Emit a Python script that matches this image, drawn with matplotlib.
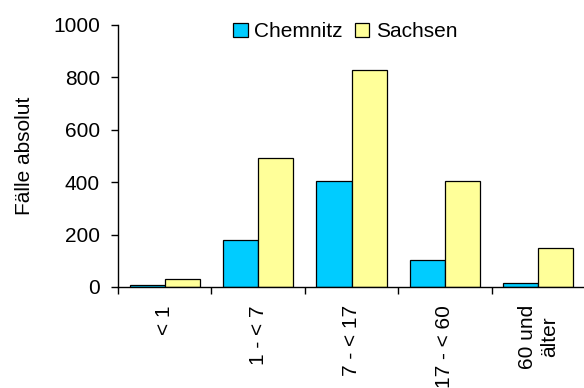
import matplotlib
matplotlib.use("Agg")
import matplotlib.pyplot as plt
import numpy as np

plt.rcParams['font.family'] = ['Liberation Sans', 'DejaVu Sans']

categories = ["< 1", "1 - < 7", "7 - < 17", "17 - < 60", "60 und\nälter"]
chemnitz = [7, 179, 405, 103, 15]
sachsen = [30, 492, 828, 405, 149]
series_names = ["Chemnitz", "Sachsen"]
yticks = [0, 200, 400, 600, 800, 1000]

fig = plt.figure(figsize=(5.84, 3.88), dpi=100)
W, H = 584, 388
ax = fig.add_axes([118 / W, (H - 287) / H, (585 - 118) / W, 262 / H])

x = np.arange(len(categories))
bw = 0.375
ax.bar(x - bw / 2, chemnitz, bw, color="#00CCFF", edgecolor="black", linewidth=0.9, label=series_names[0])
ax.bar(x + bw / 2, sachsen, bw, color="#FFFF99", edgecolor="black", linewidth=0.9, label=series_names[1])

ax.set_xlim(-0.5, len(categories) - 0.5)
ax.set_ylim(0, 1000)
ax.set_yticks(yticks)
ax.tick_params(axis='y', labelsize=15, length=5, width=1, pad=8)

ax.set_xticks(x)
ax.set_xticklabels(categories, rotation=90, fontsize=15, va='top', ha='center', multialignment='center')
ax.tick_params(axis='x', which='major', length=0, pad=13)
ax.set_xticks(np.arange(len(categories)) - 0.5, minor=True)
ax.tick_params(axis='x', which='minor', length=5, width=1)

for s in ['top', 'right']:
    ax.spines[s].set_visible(False)
for s in ['left', 'bottom']:
    ax.spines[s].set_linewidth(1)

ax.set_ylabel("Fälle absolut", fontsize=15)
ax.yaxis.set_label_coords(-(118 - 25) / (585 - 118), 0.5)
ax.yaxis.label.set_va('center')

leg = ax.legend(loc='upper center', bbox_to_anchor=((345 - 118) / (585 - 118), 1.05), ncol=2, frameon=False,
                fontsize=15, handlelength=0.7, handleheight=0.7, handletextpad=0.3, columnspacing=0.6, borderpad=0)

fig.savefig("out.png", dpi=100)
